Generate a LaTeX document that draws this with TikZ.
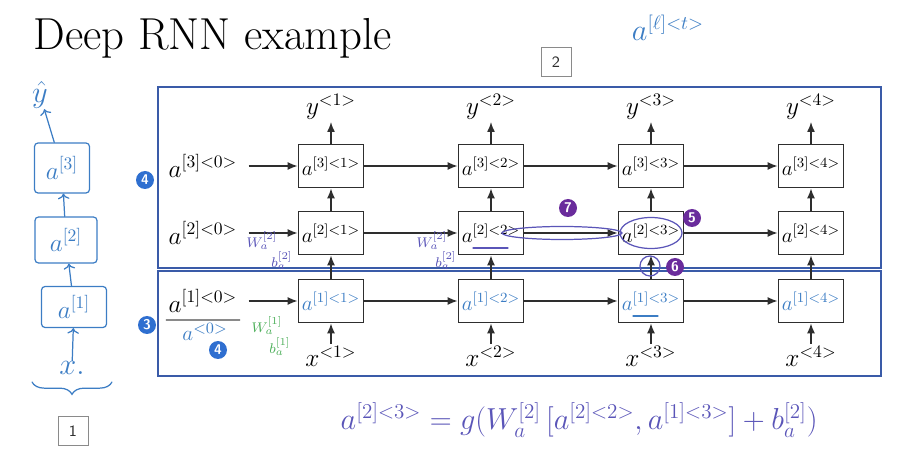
\documentclass[tikz,border=0pt]{standalone}
\usetikzlibrary{arrows.meta, positioning, decorations.pathreplacing, calc}
\definecolor{cframe}{HTML}{3A5BA8}
\definecolor{cdark}{HTML}{2E2E2E}
\definecolor{cbadge}{HTML}{2F6FD0}
\definecolor{cpurple}{HTML}{6A2C9C}
\definecolor{chand}{HTML}{3C7DC4}
\definecolor{chandp}{HTML}{5A55B8}
\definecolor{chandg}{HTML}{4DAF5A}
\definecolor{cgrey}{HTML}{8A8A8A}
\newcommand{\tstep}[1]{{<}#1{>}}
\tikzset{
  every picture/.style={line width=0.8pt},
  cell/.style={draw=cdark, line width=1pt, minimum width=13mm, minimum height=8.6mm, inner sep=0pt, font=\fontsize{12}{14}\selectfont},
  lbl/.style={inner sep=1pt, font=\fontsize{14}{16}\selectfont},
  arrow/.style={-{Latex[length=2mm, width=1.6mm]}, draw=cdark, line width=0.8pt},
  frame/.style={draw=cframe, line width=1.1pt},
  badge/.style={circle, fill=#1, text=white, inner sep=0pt, minimum size=3.6mm, font=\sffamily\bfseries\footnotesize},
  badge/.default=cbadge,
  numbox/.style={draw=cgrey, line width=0.5pt, minimum width=6mm, minimum height=5.7mm, inner sep=0pt, font=\sffamily\small, text=cdark},
  hand/.style={text=#1, inner sep=0pt, font=\fontsize{11}{13}\selectfont},
  hand/.default=chand,
  tiny/.style={hand=#1, font=\fontsize{8}{9}\selectfont},
  handline/.style={draw=#1, line width=0.7pt, line cap=round},
  handline/.default=chand,
}

\begin{document}
\begin{tikzpicture}[x=0.2mm, y=-0.2mm]
  \useasboundingbox (0,0) rectangle (923,457);
  \node[anchor=base west, inner sep=0pt, font=\fontsize{25.5}{28}\selectfont] (title) at (33,50) {Deep RNN example};
  % the two layer frames
  \draw[frame] (158,87) rectangle (881,268);
  \draw[frame] (158,271) rectangle (881,376);
  % grid of cells, one column per time step
  \foreach \t in {1,...,4} {
    \pgfmathsetmacro{\cx}{331+(\t-1)*160}
    \node[cell, text=chand] (c1-\t) at (\cx,301) {$a^{[1]\tstep{\t}}$};
    \node[cell] (c2-\t) at (\cx,233) {$a^{[2]\tstep{\t}}$};
    \node[cell] (c3-\t) at (\cx,166) {$a^{[3]\tstep{\t}}$};
    \node[lbl, anchor=south] (y\t) at (\cx,122) {$y^{\tstep{\t}}$};
    \node[lbl, anchor=north] (x\t) at (\cx,344) {$x^{\tstep{\t}}$};
    \draw[arrow] (c3-\t) -- (y\t);
    \draw[arrow] (x\t) -- (c1-\t);
    \draw[arrow] (c1-\t) -- (c2-\t);
    \draw[arrow] (c2-\t) -- (c3-\t);
  }
  \foreach \t [count=\n from 2] in {1,2,3}
    \foreach \l in {1,2,3} \draw[arrow] (c\l-\t) -- (c\l-\n);
  % initial activations
  \node[lbl] (a30) at (203,166) {$a^{[3]\tstep{0}}$};
  \node[lbl] (a20) at (203,233) {$a^{[2]\tstep{0}}$};
  \node[lbl] (a10) at (203,301) {$a^{[1]\tstep{0}}$};
  \foreach \l in {1,2,3} \draw[arrow, shorten <=5pt] (a\l0) -- (c\l-1);
  \draw[handline=cgrey] ([yshift=-3pt]a10.south west) -- ([yshift=-3pt]a10.south east);
  \node[hand, font=\fontsize{13}{15}\selectfont] (a0) at (205,332) {$a^{\tstep{0}}$};
  % numbered marks
  \node[badge] (b4) at (145,180) {4};
  \node[badge] (b3) at (147,325) {3};
  \node[badge] (b4b) at (218,350) {4};
  \node[badge=cpurple] (b5) at (692,218) {5};
  \node[badge=cpurple] (b6) at (675,267) {6};
  \node[badge=cpurple] (b7) at (568,208) {7};
  \node[numbox] (n1) at (73,431) {1};
  \node[numbox] (n2) at (556,62) {2};
  % hand notes
  \node[hand, font=\fontsize{16}{18}\selectfont] (alt) at (668,28) {$a^{[\ell]\tstep{t}}$};
  \node[tiny=chandp] (w21) at (262,241) {$W_a^{[2]}$};
  \node[tiny=chandp] (b21) at (282,261) {$b_a^{[2]}$};
  \node[tiny=chandp] (w22) at (432,241) {$W_a^{[2]}$};
  \node[tiny=chandp] (b22) at (446,261) {$b_a^{[2]}$};
  \node[tiny=chandg] (w11) at (267,326) {$W_a^{[1]}$};
  \node[tiny=chandg] (b11) at (280,347) {$b_a^{[1]}$};
  \draw[handline=chandp] (473,248) -- (508,248);
  \draw[handline] (633,316) -- (658,316);
  \draw[handline=chandp] (562,233) ellipse [x radius=12mm, y radius=1.3mm];
  \draw[handline=chandp] (c2-3.center) ellipse [x radius=6.2mm, y radius=3.1mm];
  \draw[handline=chandp] (650,266) circle [radius=2mm];
  % left: one step drawn as a stack
  \node[hand, font=\fontsize{16}{18}\selectfont] (lx) at (72,368) {$x.$};
  \node[hand, draw=chand, line width=0.7pt, rounded corners=2pt, minimum width=13mm, minimum height=8.2mm, font=\fontsize{14}{16}\selectfont] (s1) at (74,307) {$a^{[1]}$};
  \node[hand, draw=chand, line width=0.7pt, rounded corners=2pt, minimum width=12.4mm, minimum height=9.2mm, font=\fontsize{14}{16}\selectfont] (s2) at (66,240) {$a^{[2]}$};
  \node[hand, draw=chand, line width=0.7pt, rounded corners=2pt, minimum width=11mm, minimum height=10mm, font=\fontsize{14}{16}\selectfont] (s3) at (62,168) {$a^{[3]}$};
  \node[hand, font=\fontsize{17}{19}\selectfont] (yh) at (40,95) {$\hat{y}$};
  \draw[handline, ->] (lx) -- (s1);
  \draw[handline, ->] (s1) -- (s2);
  \draw[handline, ->] (s2) -- (s3);
  \draw[handline, ->] (s3) -- (yh);
  \coordinate (bl) at (32,382);
  \coordinate (br) at (112,382);
  \draw[handline, decorate, decoration={brace, mirror, amplitude=7pt}] (bl) -- (br);
  % update rule
  \node[hand=chandp, anchor=west, font=\fontsize{17.5}{20}\selectfont] (eq) at (340,420) {$a^{[2]\tstep{3}} = g\bigl(W_a^{[2]}\,[a^{[2]\tstep{2}}, a^{[1]\tstep{3}}] + b_a^{[2]}\bigr)$};
\end{tikzpicture}
\end{document}
